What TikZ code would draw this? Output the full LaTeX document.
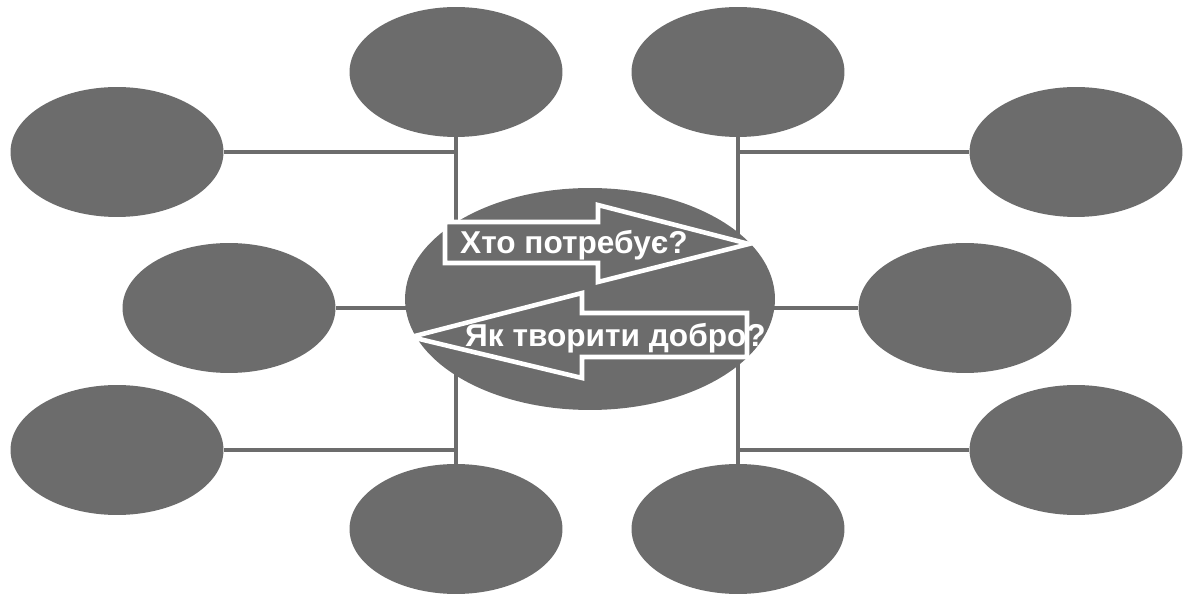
\documentclass[tikz,border=0pt]{standalone}
\usepackage{fontspec}
\setmainfont{Liberation Sans}
\usetikzlibrary{shapes.geometric}
\definecolor{blobgray}{RGB}{108,108,108}
\tikzset{
  blob/.style={ellipse, fill=blobgray, inner sep=0pt, minimum width=4.26cm, minimum height=2.6cm},
  arrowbox/.style={fill=blobgray, draw=white, line width=2.6pt, line join=miter},
  question/.style={text=white, anchor=base west, font=\bfseries\fontsize{18}{21}\selectfont}
}
\begin{document}
\begin{tikzpicture}[x=0.02cm, y=-0.02cm]
  \useasboundingbox (0,0) rectangle (1187,594);

  % outer ring of ellipses
  \begin{scope}[every node/.style={blob}]
    \node (tlo) at (117,152) {} ;
    \node (tli) at (456,72) {} ;
    \node (tri) at (738,72) {} ;
    \node (tro) at (1076,152) {} ;
    \node (ml) at (229,308) {} ;
    \node (mr) at (965,308) {} ;
    \node (blo) at (117,450) {} ;
    \node (bli) at (456,529) {} ;
    \node (bri) at (738,529) {} ;
    \node (bro) at (1076,450) {} ;
  \end{scope}

  \begin{scope}[draw=blobgray, line width=1.8pt]
    \draw (tlo) to (tlo -| tli);
    \draw (tro) to (tro -| tri);
    \draw (blo) to (blo -| bli);
    \draw (bro) to (bro -| bri);
    \draw (tli) to (bli);
    \draw (tri) to (bri);
    \draw (ml) to (mr);
  \end{scope}

  % centre
  \node[blob, minimum width=7.4cm, minimum height=4.44cm] (ctr) at (590,299) {} ;

  \draw[arrowbox] (445,222) -- (598,222) -- (598,205) -- (749,244)
    -- (598,282) -- (598,263) -- (445,263) -- cycle;
  \draw[arrowbox] (747,313) -- (582,313) -- (582,293) -- (411,337)
    -- (582,378) -- (582,357) -- (747,357) -- cycle;

  \node[question] (who) at (454,254) {Хто потребує?};
  \node[question] (how) at (459,347) {Як творити добро?};
\end{tikzpicture}
\end{document}
